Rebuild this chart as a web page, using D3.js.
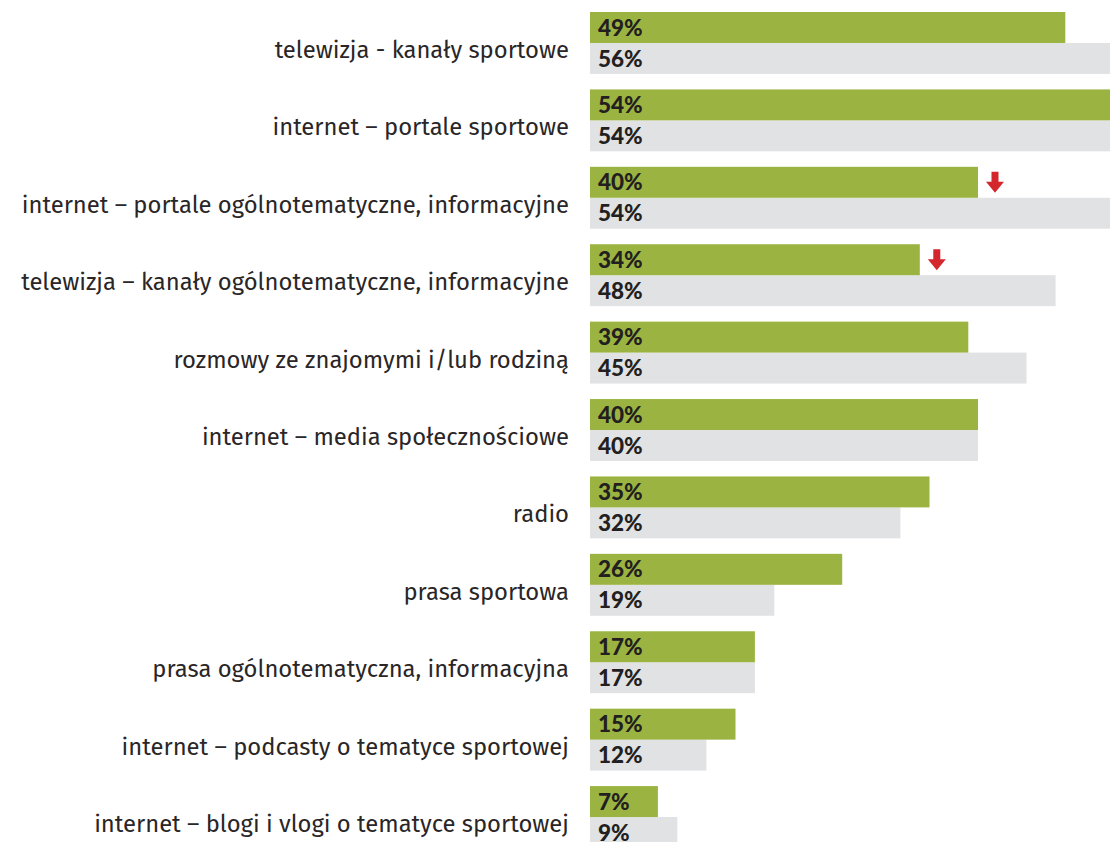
<!DOCTYPE html>
<html>
<head>
<meta charset="utf-8">
<script src="https://cdn.jsdelivr.net/npm/d3@7"></script>
<style>
  html, body { margin: 0; padding: 0; background: #ffffff; }
  svg { display: block; }
</style>
</head>
<body>
<svg id="chart" width="1110" height="842"></svg>
<script>
// Sources of sports information – current wave vs. previous wave (% of respondents)
const categories = [
  "telewizja - kanały sportowe",
  "internet – portale sportowe",
  "internet – portale ogólnotematyczne, informacyjne",
  "telewizja – kanały ogólnotematyczne, informacyjne",
  "rozmowy ze znajomymi i/lub rodziną",
  "internet – media społecznościowe",
  "radio",
  "prasa sportowa",
  "prasa ogólnotematyczna, informacyjna",
  "internet – podcasty o tematyce sportowej",
  "internet – blogi i vlogi o tematyce sportowej"
];
const currentValues  = [49, 54, 40, 34, 39, 40, 35, 26, 17, 15, 7];
const previousValues = [56, 54, 54, 48, 45, 40, 32, 19, 17, 12, 9];
// rows with a statistically significant decline
const declineFlags   = [false, false, true, true, false, false, false, false, false, false, false];

const svg = d3.select("#chart");

const x = d3.scaleLinear().domain([0, 100]).range([590, 590 + 970]);
const y = d3.scaleBand().domain(categories).range([12, 848]).paddingInner(0.2).paddingOuter(0);
const half = y.bandwidth() / 2;

const rows = categories.map((c, i) => ({
  cat: c, cur: currentValues[i], prev: previousValues[i], down: declineFlags[i]
}));

const g = svg.selectAll("g.row").data(rows).join("g").attr("class", "row")
  .attr("transform", d => `translate(0,${y(d.cat)})`);

// category labels
g.append("text")
  .attr("x", 569)
  .attr("y", half + 15)
  .attr("text-anchor", "end")
  .attr("font-family", "'Fira Sans', Lato, sans-serif")
  .attr("font-size", 23.8)
  .attr("fill", "#2a2627")
  .text(d => d.cat);

// previous wave (grey)
g.append("rect")
  .attr("x", x(0))
  .attr("y", half)
  .attr("width", d => x(d.prev) - x(0))
  .attr("height", half)
  .attr("fill", "#e1e2e4");

// current wave (green)
g.append("rect")
  .attr("x", x(0))
  .attr("y", 0)
  .attr("width", d => x(d.cur) - x(0))
  .attr("height", half)
  .attr("fill", "#9bb441");

// value labels
const valFont = { family: "Lato, sans-serif", size: 22.5, weight: 900 };
g.append("text")
  .attr("x", x(0) + 8)
  .attr("y", half / 2)
  .attr("dy", "0.36em")
  .attr("font-family", valFont.family)
  .attr("font-size", valFont.size)
  .attr("font-weight", valFont.weight)
  .attr("fill", "#231f20")
  .text(d => d.cur + "%");

g.append("text")
  .attr("x", x(0) + 8)
  .attr("y", half + half / 2)
  .attr("dy", "0.36em")
  .attr("font-family", valFont.family)
  .attr("font-size", valFont.size)
  .attr("font-weight", valFont.weight)
  .attr("fill", "#231f20")
  .text(d => d.prev + "%");

// decline arrows
const arrow = "M-3.5,0 L3.5,0 L3.5,10 L9,10 L0,21 L-9,10 L-3.5,10 Z";
g.filter(d => d.down).append("path")
  .attr("d", arrow)
  .attr("transform", d => `translate(${x(d.cur) + 17},5)`)
  .attr("fill", "#d4262d");
</script>
</body>
</html>
